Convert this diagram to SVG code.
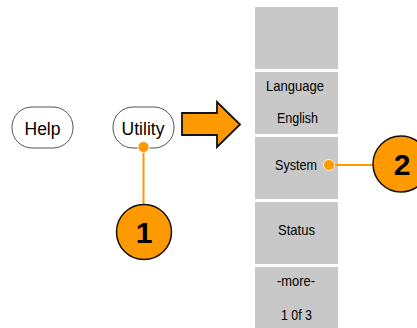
<svg xmlns="http://www.w3.org/2000/svg" width="417" height="328" viewBox="0 0 417 328">
<style>
.btn{fill:#fff;stroke:#555;stroke-width:1}
.btxt{font-family:"Liberation Sans",Arial,sans-serif;font-size:17.5px;fill:#000;text-anchor:middle}
.panel{fill:#c8c8c8}
.ptxt{font-family:"Liberation Sans",Arial,sans-serif;font-size:15px;fill:#000;text-anchor:middle}
.call{fill:#ff9900;stroke:#111;stroke-width:1.5}
.num{font-family:"Liberation Sans",Arial,sans-serif;font-size:30px;font-weight:bold;fill:#000;text-anchor:middle}
.lead{stroke:#ff9900;stroke-width:2;fill:none}
.dot{fill:#ff9900;stroke:#fff;stroke-width:0.8}
</style>
<rect width="417" height="328" fill="#fff"/>
<g id="help"><rect class="btn" x="12" y="107" width="61" height="41" rx="20"/><text class="btxt" x="42.5" y="135">Help</text></g>
<g id="utility"><rect class="btn" x="113" y="107" width="61" height="41" rx="20"/><text class="btxt" x="143" y="135">Utility</text></g>
<g id="arrow"><polygon points="182,113 217,113 217,102 240,124.5 217,147 217,135 182,135" fill="#ff9900" stroke="#111" stroke-width="1.8"/></g>
<g id="panel-blank"><rect class="panel" x="255" y="7" width="83" height="62"/></g>
<g id="panel-language"><rect class="panel" x="255" y="72" width="83" height="62"/><text class="ptxt" x="295" y="91" textLength="58" lengthAdjust="spacingAndGlyphs">Language</text><text class="ptxt" x="297.5" y="123" textLength="41" lengthAdjust="spacingAndGlyphs">English</text></g>
<g id="panel-system"><rect class="panel" x="255" y="137" width="83" height="62"/><text class="ptxt" x="296" y="170" textLength="42" lengthAdjust="spacingAndGlyphs">System</text></g>
<g id="panel-status"><rect class="panel" x="255" y="202" width="83" height="62"/><text class="ptxt" x="296.5" y="235" textLength="37" lengthAdjust="spacingAndGlyphs">Status</text></g>
<g id="panel-more"><rect class="panel" x="255" y="267" width="83" height="62"/><text class="ptxt" x="296" y="286" textLength="38" lengthAdjust="spacingAndGlyphs">-more-</text><text class="ptxt" x="296.5" y="319.5" textLength="31" lengthAdjust="spacingAndGlyphs">1 0f 3</text></g>
<g id="connectors">
<line class="lead" x1="143.5" y1="147" x2="143.5" y2="204"/>
<circle class="dot" cx="143.5" cy="147" r="5.5"/>
<line class="lead" x1="329" y1="165" x2="373" y2="165"/>
<circle class="dot" cx="329" cy="165" r="5.5"/>
</g>
<g id="callout-1"><circle class="call" cx="144" cy="232" r="27.5"/><text class="num" x="144" y="243">1</text></g>
<g id="callout-2"><circle class="call" cx="401" cy="164" r="28"/><text class="num" x="402" y="175">2</text></g>
</svg>
